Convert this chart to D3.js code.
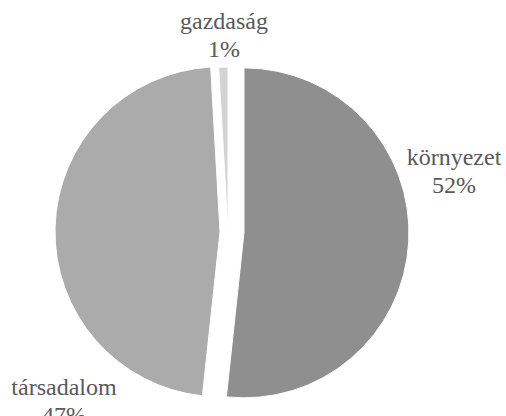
<!DOCTYPE html>
<html>
<head>
<meta charset="utf-8">
<script src="https://cdn.jsdelivr.net/npm/d3@7"></script>
<style>
  html, body { margin: 0; padding: 0; background: #fff; }
</style>
</head>
<body>
<div id="chart"></div>
<script>
// adatok
const categories = ["környezet", "társadalom", "gazdaság"];
const values = [51.7, 47.4, 0.9];

// megjelenés
const colors = ["#8f8f8f", "#ababab", "#d3d3d3"];
const explode = [16, 8, 0];
// címke helyek (középpont x, első sor alapvonala)
const labelAt = [[454, 165], [64, 395], [224, 29]];

const width = 506;
const height = 416;
const radius = 165;
const cx = 228;
const cy = 232;

const total = d3.sum(values);
const data = categories.map((c, i) => ({ name: c, value: values[i], i }));

const pie = d3.pie()
  .sort(null)
  .value(d => d.value)
  .startAngle(0)
  .endAngle(2 * Math.PI);

const arc = d3.arc()
  .innerRadius(0)
  .outerRadius(radius);

const arcs = pie(data);

const svg = d3.create("svg")
  .attr("width", width)
  .attr("height", height)
  .attr("viewBox", `0 0 ${width} ${height}`)
  .style("display", "block")
  .style("font-family", "'Liberation Serif', 'Times New Roman', serif");

const g = svg.append("g")
  .attr("transform", `translate(${cx},${cy})`);

g.selectAll("path")
  .data(arcs)
  .join("path")
  .attr("transform", d => {
    const mid = (d.startAngle + d.endAngle) / 2;
    const e = explode[d.data.i];
    return `translate(${Math.sin(mid) * e},${-Math.cos(mid) * e})`;
  })
  .attr("d", arc)
  .attr("fill", d => colors[d.data.i])
  .attr("stroke", "#fff")
  .attr("stroke-width", 1);

const label = svg.append("g")
  .attr("text-anchor", "middle")
  .style("font-size", "24px")
  .style("fill", "#595959")
  .selectAll("text")
  .data(arcs)
  .join("text")
  .attr("x", d => labelAt[d.data.i][0])
  .attr("y", d => labelAt[d.data.i][1]);

label.append("tspan")
  .attr("x", d => labelAt[d.data.i][0])
  .text(d => d.data.name);

label.append("tspan")
  .attr("x", d => labelAt[d.data.i][0])
  .attr("dy", 28)
  .text(d => `${Math.round(d.data.value / total * 100)}%`);

document.getElementById("chart").append(svg.node());
</script>
</body>
</html>
